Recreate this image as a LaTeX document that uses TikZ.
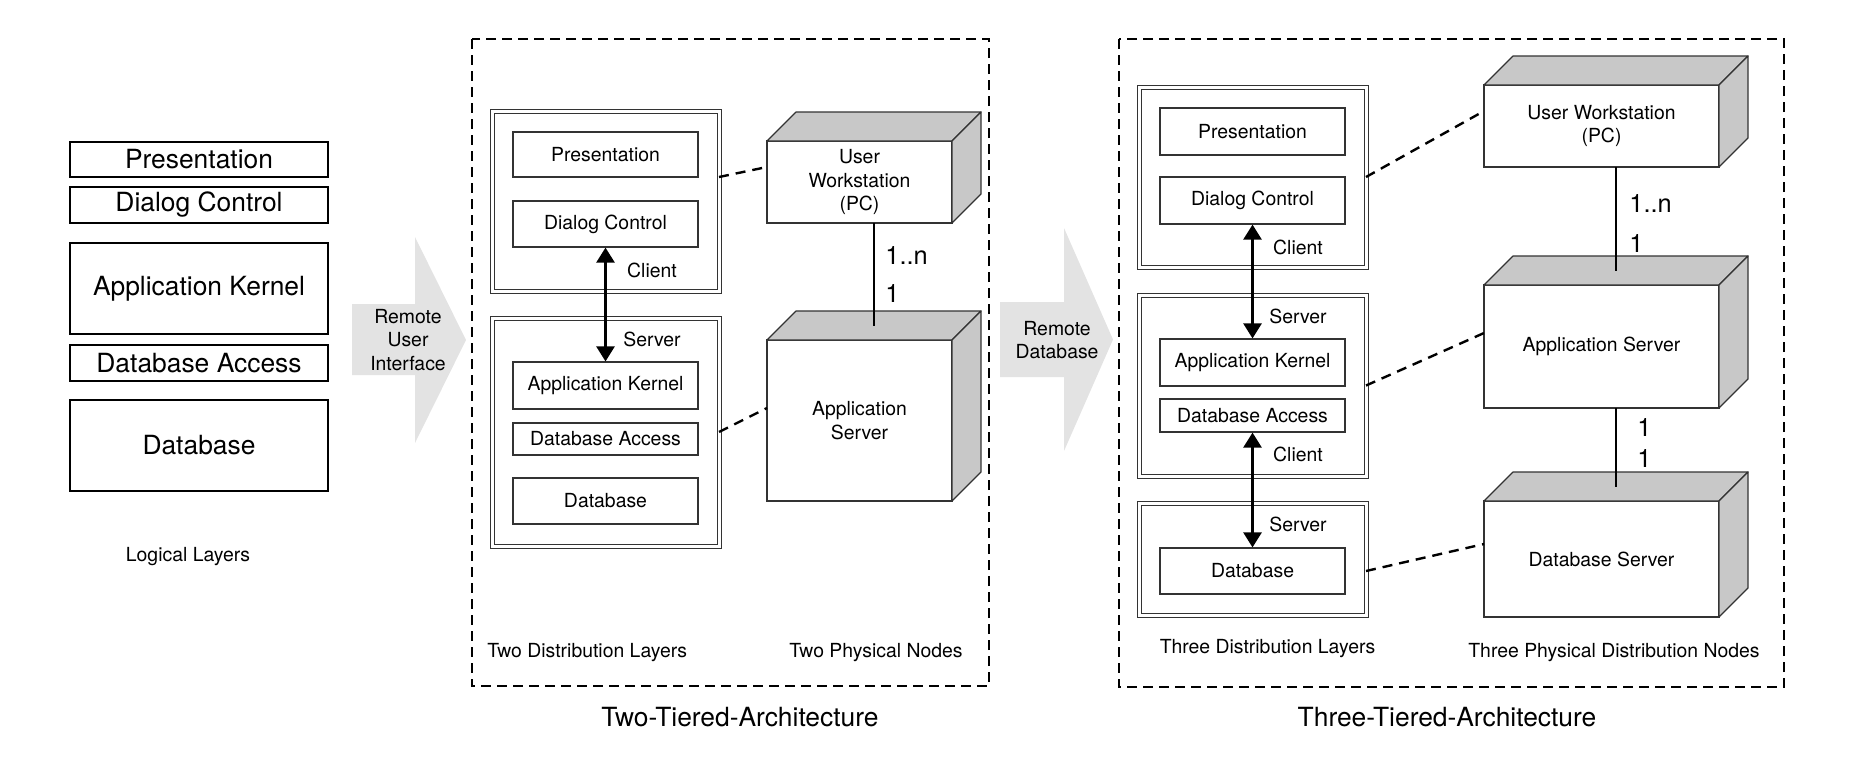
\documentclass[tikz,border=0pt]{standalone}
\usepackage{fontspec}
\setmainfont{TeX Gyre Heros}
\usetikzlibrary{arrows.meta,calc}
\definecolor{sidegray}{HTML}{C8C8C8}
\definecolor{arrowgray}{HTML}{E3E3E3}
\definecolor{framegray}{HTML}{333333}

\begin{document}
\begin{tikzpicture}[
  x=0.5pt, y=-0.5pt,
  >={Triangle[length=7.5pt,width=9pt]},
  smalltext/.style={
    font=\fontsize{9.7pt}{11.7pt}\selectfont,
    inner sep=0pt
  },
  bigtext/.style={
    font=\fontsize{13.2pt}{15pt}\selectfont,
    inner sep=0pt
  },
  layerbox/.style={
    draw=black,
    line width=1.2pt,
    minimum width=128.8pt,
    inner sep=0pt,
    font=\fontsize{13.2pt}{15pt}\selectfont
  },
  compbox/.style={
    draw=framegray,
    fill=white,
    line width=0.6pt,
    minimum width=92.5pt,
    minimum height=23pt,
    inner sep=0pt,
    font=\fontsize{9.7pt}{11.7pt}\selectfont
  },
  pkgbox/.style={
    draw=framegray,
    line width=0.5pt,
    double=white,
    double distance=1.5pt,
    minimum width=113.5pt,
    inner sep=0pt,
    outer sep=0pt
  },
  cubebox/.style={
    draw=framegray,
    fill=white,
    line width=0.6pt,
    align=center,
    inner sep=0pt,
    outer sep=0pt,
    font=\fontsize{9.7pt}{11.7pt}\selectfont
  },
  sideface/.style={draw=framegray, fill=sidegray, line width=0.6pt, line join=round},
  tierframe/.style={draw=black, line width=1.2pt, dash pattern=on 5pt off 3pt},
  linkdash/.style={draw=black, line width=1.2pt, dash pattern=on 5pt off 3.5pt},
  multline/.style={draw=black, line width=1.3pt},
  multlabel/.style={font=\fontsize{12.7pt}{14pt}\selectfont, inner sep=0pt, anchor=west},
  callarrow/.style={draw=black, line width=1.3pt, <->}
]
  \useasboundingbox (0,0) rectangle (1855,762);

  % ---------------------------------------------------------------------------
  % LOGICAL LAYERS
  % ---------------------------------------------------------------------------
  \node[layerbox, minimum height=17.5pt] (pres) at (199,159.5) {Presentation};
  \node[layerbox, minimum height=17.8pt] (dlg) at (199,205) {Dialog Control};
  \node[layerbox, minimum height=45.3pt] (kern) at (199,288.5) {Application Kernel};
  \node[layerbox, minimum height=17.8pt] (dbacc) at (199,363) {Database Access};
  \node[layerbox, minimum height=45.3pt] (db) at (199,445.5) {Database};
  \node[smalltext] (loglbl) at (188,557) {Logical Layers};

  % Remote User Interface arrow
  \fill[arrowgray] (352,304) -- (415,304) -- (415,237) -- (466,340) -- (415,443) -- (415,375) -- (352,375) -- cycle;
  \node[smalltext, align=center] (rui) at (408,340) {Remote\\User\\Interface};

  % ---------------------------------------------------------------------------
  % TWO-TIERED ARCHITECTURE
  % ---------------------------------------------------------------------------
  \draw[tierframe] (472,39) rectangle (989,686);

  \node[pkgbox, minimum height=90pt] (cli2) at (605.5,201) {};
  \node[pkgbox, minimum height=114pt] (srv2) at (605.5,432) {};

  \node[compbox, minimum height=22.5pt] (pres2) at (605.5,154.5) {Presentation};
  \node[compbox] (dlg2) at (605.5,224) {Dialog Control};
  \node[compbox, minimum height=23.5pt] (kern2) at (605.5,385.5) {Application Kernel};
  \node[compbox, minimum height=16pt] (dbacc2) at (605.5,439) {Database Access};
  \node[compbox] (db2) at (605.5,501) {Database};

  \node[smalltext] (clilbl2) at (652,270) {Client};
  \node[smalltext] (srvlbl2) at (652,339) {Server};

  \draw[callarrow] (dlg2.south) -- (kern2.north);

  % Physical nodes
  \node[cubebox, minimum width=92.5pt, minimum height=41pt] (uw2) at (859.5,182) {User\\Workstation\\(PC)};
  \node[cubebox, minimum width=92.5pt, minimum height=80.5pt] (as2) at (859.5,420.5) {Application\\Server};

  \node[smalltext, anchor=west] (twolayers) at (487,653) {Two Distribution Layers};
  \node[smalltext] (twonodes) at (876,653) {Two Physical Nodes};
  \node[bigtext] (twotitle) at (740,717) {Two-Tiered-Architecture};

  % Remote Database arrow
  \fill[arrowgray] (1000,302) -- (1064,302) -- (1064,228) -- (1113,339.5) -- (1064,451) -- (1064,377) -- (1000,377) -- cycle;
  \node[smalltext, align=center] (rdb) at (1057,340) {Remote\\Database};

  % ---------------------------------------------------------------------------
  % THREE-TIERED ARCHITECTURE
  % ---------------------------------------------------------------------------
  \draw[tierframe] (1119,39) rectangle (1784,687);

  \node[pkgbox, minimum height=90pt] (cli3) at (1252.5,177) {};
  \node[pkgbox, minimum height=90.5pt] (mid3) at (1252.5,385.5) {};
  \node[pkgbox, minimum height=56pt] (srv3) at (1252.5,559) {};

  \node[compbox, minimum height=23.5pt] (pres3) at (1252.5,131.5) {Presentation};
  \node[compbox, minimum height=23.5pt] (dlg3) at (1252.5,200.5) {Dialog Control};
  \node[compbox, minimum height=23.5pt] (kern3) at (1252.5,362.5) {Application Kernel};
  \node[compbox, minimum height=16.5pt] (dbacc3) at (1252.5,415.5) {Database Access};
  \node[compbox] (db3) at (1252.5,571) {Database};

  \node[smalltext] (clilbl3) at (1298,247) {Client};
  \node[smalltext] (srvlbl3) at (1298,316) {Server};
  \node[smalltext] (clilbl3b) at (1298,454) {Client};
  \node[smalltext] (srvlbl3b) at (1298,524) {Server};

  \draw[callarrow] (dlg3.south) -- (kern3.north);
  \draw[callarrow] (dbacc3.south) -- (db3.north);

  % Physical nodes
  \node[cubebox, minimum width=117.5pt, minimum height=41pt] (uw3) at (1601.5,126) {User Workstation\\(PC)};
  \node[cubebox, minimum width=117.5pt, minimum height=61.5pt] (as3) at (1601.5,346.5) {Application Server};
  \node[cubebox, minimum width=117.5pt, minimum height=58pt] (dbs3) at (1601.5,559) {Database Server};

  \node[smalltext] (threelayers) at (1267.5,649) {Three Distribution Layers};
  \node[smalltext] (threenodes) at (1614,653) {Three Physical Distribution Nodes};
  \node[bigtext] (threetitle) at (1447,717) {Three-Tiered-Architecture};

  % ---------------------------------------------------------------------------
  % CUBE SIDES, MULTIPLICITIES, LINKS
  % ---------------------------------------------------------------------------
  \foreach \n in {uw2,as2,uw3,as3,dbs3} {
    \filldraw[sideface] (\n.north west) -- ++(29,-29) -- ($(\n.north east)+(29,-29)$) -- (\n.north east) -- cycle;
    \filldraw[sideface] (\n.north east) -- ++(29,-29) -- ($(\n.south east)+(29,-29)$) -- (\n.south east) -- cycle;
  }

  \draw[multline] ($(uw2.south)+(14.5,0)$) -- ($(as2.north)+(14.5,-14.5)$);
  \node[multlabel] (mult2a) at (885,255) {1..n};
  \node[multlabel] (mult2b) at (885,293) {1};

  \draw[multline] ($(uw3.south)+(14.5,0)$) -- ($(as3.north)+(14.5,-14.5)$);
  \node[multlabel] (mult3a) at (1629,203) {1..n};
  \node[multlabel] (mult3b) at (1629,243) {1};

  \draw[multline] ($(as3.south)+(14.5,0)$) -- ($(dbs3.north)+(14.5,-14.5)$);
  \node[multlabel] (mult3c) at (1637,427) {1};
  \node[multlabel] (mult3d) at (1637,458) {1};

  \draw[linkdash] ([yshift=12pt]cli2.east) -- ([yshift=7.5pt]uw2.west);
  \draw[linkdash] (srv2.east) -- ([yshift=6.25pt]as2.west);

  \draw[linkdash] (cli3.east) -- ([yshift=7.5pt]uw3.west);
  \draw[linkdash] (mid3.east) -- ([yshift=6.75pt]as3.west);
  \draw[linkdash] ([yshift=-6pt]srv3.east) -- ([yshift=7.5pt]dbs3.west);

\end{tikzpicture}
\end{document}
